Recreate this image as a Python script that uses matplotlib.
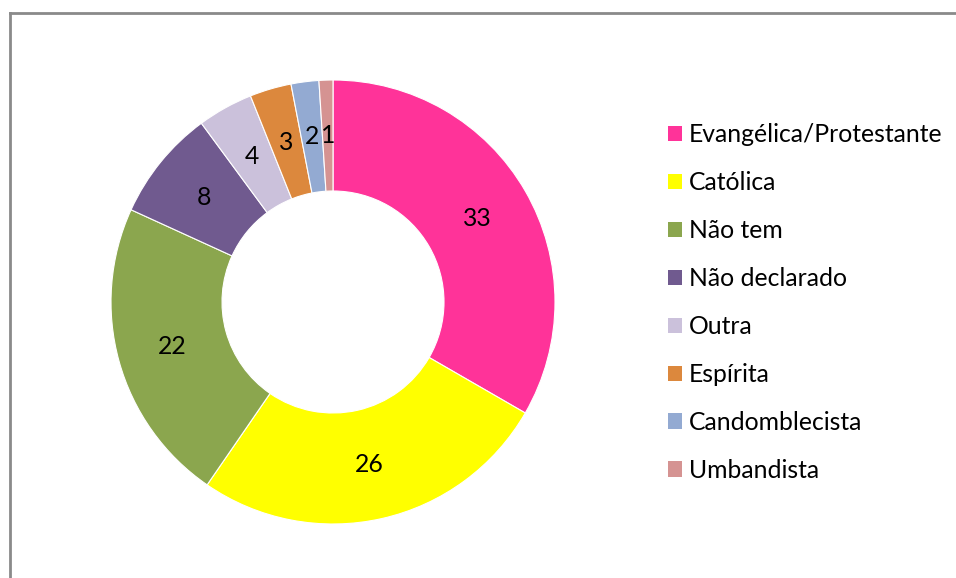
import matplotlib.pyplot as plt
from matplotlib.patches import Patch
from matplotlib.lines import Line2D

categories = ['Evangélica/Protestante', 'Católica', 'Não tem', 'Não declarado',
              'Outra', 'Espírita', 'Candomblecista', 'Umbandista']
values = [33, 26, 22, 8, 4, 3, 2, 1]
colors = ['#FF3399', '#FFFF00', '#8BA64E', '#705A8F', '#CBC1DB', '#DC883D', '#93AAD2', '#D59392']

plt.rcParams['font.family'] = ['Lato', 'DejaVu Sans']
FS = 17.8

fig = plt.figure(figsize=(9.56, 5.78), dpi=100)

# chart frame (only top and left edge visible in the crop)
fig.add_artist(Line2D([10/956, 10/956], [0, 1 - 13/578], transform=fig.transFigure,
                      color='#8a8a8a', lw=2))
fig.add_artist(Line2D([10/956, 1], [1 - 13/578, 1 - 13/578], transform=fig.transFigure,
                      color='#8a8a8a', lw=2))

cx, cy, r = 333, 302, 222
ax = fig.add_axes([(cx - r) / 956, (578 - cy - r) / 578, 2 * r / 956, 2 * r / 578])
wedges, texts = ax.pie(values, labels=[str(v) for v in values], colors=colors,
                       startangle=90, counterclock=False, radius=1.0,
                       labeldistance=0.75,
                       wedgeprops=dict(width=0.5, edgecolor='white', linewidth=0.8),
                       textprops=dict(fontsize=FS, color='black'))
for t in texts:
    t.set_ha('center')
    t.set_va('center')
ax.set_xlim(-1, 1)
ax.set_ylim(-1, 1)
ax.set_aspect('equal')
ax.axis('off')

handles = [Patch(facecolor=c, edgecolor='none') for c in colors]
fig.legend(handles, categories, loc='upper left', bbox_to_anchor=(668/956, 1 - 123/578),
           frameon=False, fontsize=FS, handlelength=0.57, handleheight=0.57,
           handletextpad=0.28, labelspacing=1.01, borderaxespad=0, borderpad=0)

fig.savefig('out.png', dpi=100, facecolor='white')
